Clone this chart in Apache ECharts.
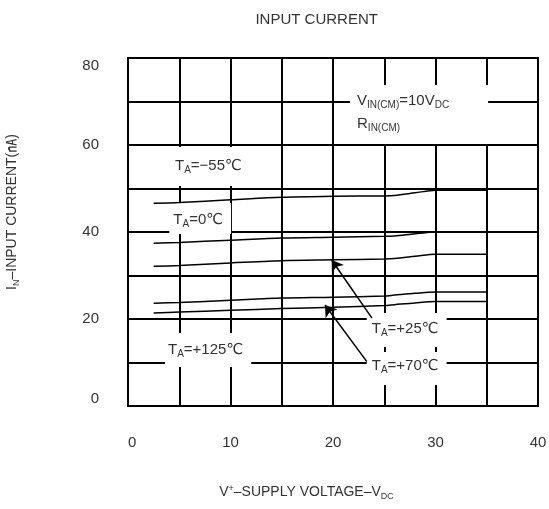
<!DOCTYPE html>
<html><head><meta charset="utf-8">
<script src="https://cdn.jsdelivr.net/npm/echarts@6/dist/echarts.min.js"></script>
<style>html,body{margin:0;padding:0;background:#fff}#c{width:549px;height:509px}</style>
</head><body><div id="c"></div>
<script>
// ---- data ----
const xTicks = [0, 10, 20, 30, 40];
const yTicks = [0, 20, 40, 60, 80];
const supplyVoltage = [2.5, 5, 10, 15, 20, 25, 26, 28, 30, 35];
const currentM55 = [46.6, 46.8, 47.4, 48.0, 48.2, 48.3, 48.4, 49.0, 49.6, 49.6];
const current0   = [37.4, 37.6, 38.1, 38.6, 38.8, 39.0, 39.1, 39.6, 40.0, 40.0];
const current25  = [32.1, 32.3, 32.9, 33.4, 33.6, 33.8, 33.9, 34.4, 34.9, 34.9];
const current70  = [23.6, 23.8, 24.3, 24.8, 25.0, 25.3, 25.5, 25.9, 26.2, 26.2];
const current125 = [21.4, 21.6, 22.0, 22.4, 22.7, 23.1, 23.3, 23.7, 24.0, 24.0];
const annotationTexts = [
  '{m|T}{s|A}{m|=−55℃}',
  '{m|T}{s|A}{m|=0℃}',
  '{m|T}{s|A}{m|=+25℃}',
  '{m|T}{s|A}{m|=+70℃}',
  '{m|T}{s|A}{m|=+125℃}',
  '{m|V}{s|IN(CM)}{m|=10V}{s|DC}\n{m|R}{s|IN(CM)}'
];
// annotation anchors (data units) and arrows (data units)
const annotationAnchors = [[4.0, 55.06], [4.03, 43.1], [23.29, 17.47], [23.29, 8.62], [3.61, 12.87], [21.66, 67.01]];
const arrow25 = [[23.8, 20.2], [19.87, 33.56]];
const arrow70 = [[23.3, 10.2], [19.22, 23.22]];

// ---- styles ----
const FONT = '"Liberation Sans", Arial, Helvetica, "DejaVu Sans", "Noto Sans CJK KR", sans-serif';
const TXT = '#333';
const annoPadding = [[7.5, 6, 8.5, 6], [5, 8, 3, 4], [4, 8, 7, 5], [2.5, 8, 7.5, 5], [5, 8, 6, 3], [4, 39, 9, 7]];
const labelRich = {
  m: {fontSize: 15, lineHeight: 23, verticalAlign: 'middle', fontFamily: FONT, color: TXT},
  s: {fontSize: 10, lineHeight: 23, verticalAlign: 'top', padding: [11, 0, 0, 0], fontFamily: FONT, color: TXT}
};
const nameRich = {
  m: {fontSize: 14, lineHeight: 18, verticalAlign: 'middle', fontFamily: FONT, color: TXT},
  s: {fontSize: 9, lineHeight: 18, verticalAlign: 'top', padding: [9, 0, 0, 0], fontFamily: FONT, color: TXT},
  p: {fontSize: 9, lineHeight: 18, verticalAlign: 'top', padding: [1, 0, 0, 0], fontFamily: FONT, color: TXT}
};
const zip = (xs, ys) => xs.map((x, i) => [x, ys[i]]);
const curveStyle = {color: '#000', width: 1.5};
function curve(name, ys, extra) {
  return Object.assign({
    type: 'line', name, z: 4, data: zip(supplyVoltage, ys), showSymbol: false, symbol: 'none',
    smooth: 0.3, lineStyle: curveStyle, itemStyle: {color: '#000'}, silent: true, animation: false
  }, extra || {});
}
function arrow(a) {
  return {
    silent: true, animation: false, symbol: ['none', 'arrow'], symbolSize: 11,
    lineStyle: {color: '#000', width: 1.5, type: 'solid'}, label: {show: false},
    emphasis: {disabled: true},
    data: [[{coord: a[0]}, {coord: a[1]}]]
  };
}

const chart = echarts.init(document.getElementById('c'), null, {renderer: 'canvas'});
chart.setOption({
  backgroundColor: '#fff',
  animation: false,
  textStyle: {fontFamily: FONT},
  title: {
    text: 'INPUT CURRENT', left: 311.7, top: 7.5, textAlign: 'center',
    textStyle: {fontSize: 15, fontWeight: 'normal', color: TXT, fontFamily: FONT}
  },
  grid: {left: 128, right: 11, top: 58, bottom: 103, outerBoundsMode: 'none', containLabel: false,
    show: true, borderColor: '#000', borderWidth: 2, backgroundColor: '#fff'},
  xAxis: {
    type: 'value', min: 0, max: 40, interval: 5,
    name: '{m|V}{p|+}{m|–SUPPLY VOLTAGE–V}{s|DC}', nameLocation: 'middle', nameGap: 77,
    nameTextStyle: {fontSize: 14, color: TXT, fontFamily: FONT, padding: [0, 53, 0, 0], rich: nameRich},
    axisLine: {show: false}, axisTick: {show: false},
    splitLine: {show: true, lineStyle: {color: '#000', width: 2}},
    axisLabel: {
      margin: 29, fontSize: 15, color: TXT, fontFamily: FONT, alignMinLabel: 'left',
      formatter: v => xTicks.includes(v) ? String(v) : ''
    }
  },
  yAxis: {
    type: 'value', min: 0, max: 80, interval: 10,
    name: '{m|I}{s|N}{m|–INPUT CURRENT(㎁)}', nameLocation: 'middle', nameRotate: 90, nameGap: 107,
    nameTextStyle: {fontSize: 14, color: TXT, fontFamily: FONT, padding: [0, 0, 0, 40], rich: nameRich},
    axisLine: {show: false}, axisTick: {show: false},
    splitLine: {show: true, lineStyle: {color: '#000', width: 2}},
    axisLabel: {
      margin: 29, fontSize: 15, color: TXT, fontFamily: FONT,
      verticalAlignMinLabel: 'bottom', verticalAlignMaxLabel: 'top',
      formatter: v => yTicks.includes(v) ? String(v) : ''
    }
  },
  series: [
    curve('TA=-55°C', currentM55),
    curve('TA=0°C', current0),
    curve('TA=+25°C', current25, {markLine: arrow(arrow25)}),
    curve('TA=+70°C', current70, {markLine: arrow(arrow70)}),
    curve('TA=+125°C', current125),
    {
      type: 'scatter', z: 3, symbolSize: 1, silent: true, animation: false,
      itemStyle: {color: 'rgba(0,0,0,0)', opacity: 1},
      data: annotationAnchors.map((p, i) => ({value: p, label: {padding: annoPadding[i]}})),
      label: {
        show: true, position: 'inside', align: 'left', verticalAlign: 'middle',
        backgroundColor: '#fff', fontSize: 15, lineHeight: 23, color: TXT, fontFamily: FONT,
        rich: labelRich,
        formatter: p => annotationTexts[p.dataIndex]
      },
      emphasis: {disabled: true}
    }
  ]
});
</script>
</body></html>
